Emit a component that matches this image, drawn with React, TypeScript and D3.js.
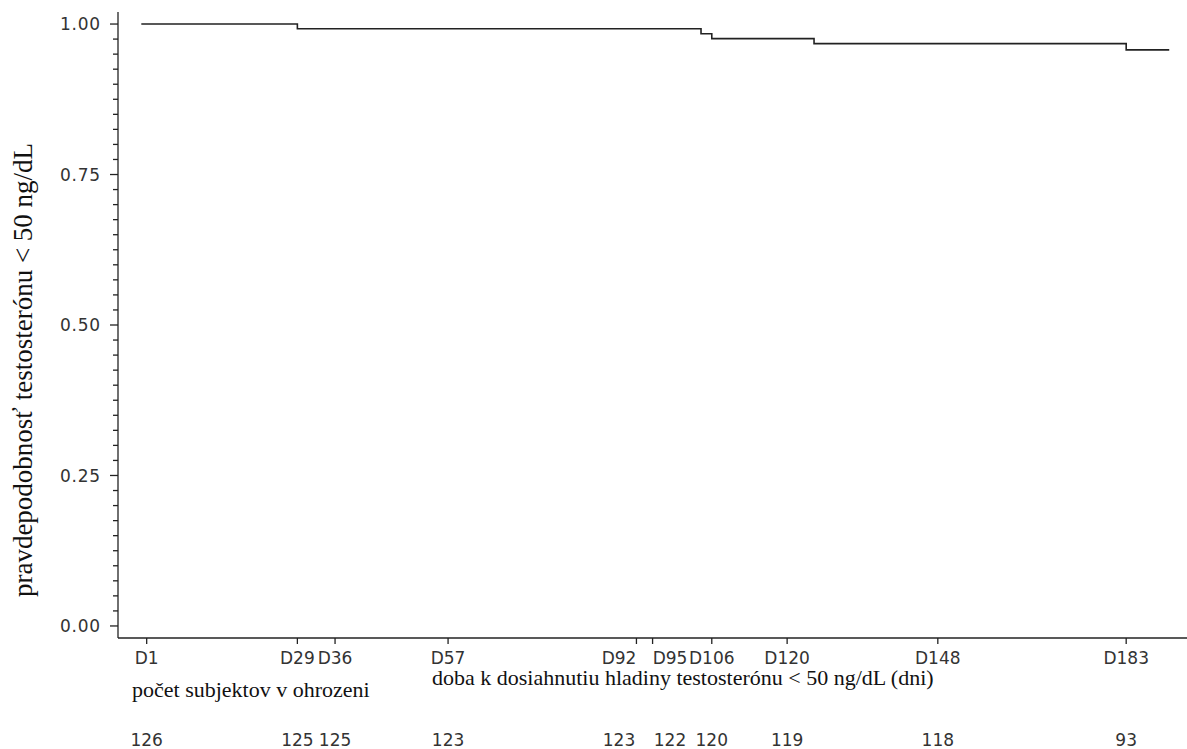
import React from 'react';
import * as d3 from 'd3';

// visit days shown on the x axis and the number at risk under each
const tickDays = [1, 29, 36, 57, 92, 95, 106, 120, 148, 183];
const tickLabels = ['D1', 'D29', 'D36', 'D57', 'D92', 'D95', 'D106', 'D120', 'D148', 'D183'];
const atRisk = [126, 125, 125, 123, 123, 122, 120, 119, 118, 93];

// Kaplan-Meier steps (day of event, survival after it)
const stepDays = [0, 29, 104, 106, 125, 183];
const stepSurv = [1.0, 0.9921, 0.9838, 0.9757, 0.9675, 0.9571];
const lastDay = 191;

const yTicks = [0, 0.25, 0.5, 0.75, 1.0];

const W = 1187;
const H = 749;

// spread labels whose ticks sit too close together
function layoutLabels(xs: number[]): number[] {
  const out = xs.slice();
  for (let i = 0; i < xs.length - 1; i++) {
    const gap = xs[i + 1] - xs[i];
    if (gap < 20) {
      const mid = (xs[i] + xs[i + 1]) / 2;
      out[i] = mid - 25.5;
      out[i + 1] = mid + 25.5;
    }
  }
  return out;
}

const App = () => {
  const x = d3.scaleLinear().domain([-4.33, 194.3]).range([118, 1187]);
  const y = d3.scaleLinear().domain([-0.02, 1.02]).range([638, 12]);

  const pts: [number, number][] = stepDays.map((d, i) => [d, stepSurv[i]]);
  pts.push([lastDay, stepSurv[stepSurv.length - 1]]);
  const line = d3.line<[number, number]>()
    .x(d => x(d[0]))
    .y(d => y(d[1]))
    .curve(d3.curveStepAfter);

  const minor = d3.range(0, 41).map(i => i * 0.025).filter((v, i) => i % 10 !== 0);
  const labelX = layoutLabels(tickDays.map(d => x(d)));

  const sans = '"DejaVu Sans", Verdana, sans-serif';
  const serif = '"Liberation Serif", "Times New Roman", serif';

  return (
    <svg width={W} height={H} style={{ position: 'absolute', left: 0, top: 0, background: '#fff' }}>
      {/* axes */}
      <line x1={118} x2={118} y1={12} y2={638} stroke="#222" strokeWidth={1.3} />
      <line x1={118} x2={1187} y1={638} y2={638} stroke="#222" strokeWidth={1.3} />

      {yTicks.map(t => (
        <g key={t}>
          <line x1={110} x2={118} y1={y(t)} y2={y(t)} stroke="#222" strokeWidth={1.3} />
          <text x={101} y={y(t)} dy="0.36em" textAnchor="end" fontFamily={sans} fontSize={17} letterSpacing={0.8} fill="#333">
            {t.toFixed(2)}
          </text>
        </g>
      ))}
      {minor.map(t => (
        <line key={t} x1={113} x2={118} y1={y(t)} y2={y(t)} stroke="#222" strokeWidth={1.3} />
      ))}

      {tickDays.map((d, i) => (
        <g key={d}>
          <line x1={x(d)} x2={x(d)} y1={638} y2={644} stroke="#222" strokeWidth={1.3} />
          <text x={labelX[i]} y={663.5} textAnchor="middle" fontFamily={sans} fontSize={17} fill="#333">
            {tickLabels[i]}
          </text>
          <text x={labelX[i]} y={746} textAnchor="middle" fontFamily={sans} fontSize={17} fill="#333">
            {atRisk[i]}
          </text>
        </g>
      ))}

      {/* survival curve */}
      <path d={line(pts) || ''} fill="none" stroke="#222" strokeWidth={1.6} />

      {/* titles */}
      <text x={432} y={685} fontFamily={serif} fontSize={22} fill="#111">
        doba k dosiahnutiu hladiny testosterónu &lt; 50 ng/dL (dni)
      </text>
      <text x={132} y={697} fontFamily={serif} fontSize={22} fill="#111">
        počet subjektov v ohrozeni
      </text>
      <text
        transform="translate(32,370) rotate(-90)"
        textAnchor="middle"
        fontFamily={serif}
        fontSize={27}
        fill="#111"
      >
        pravdepodobnosť testosterónu &lt; 50 ng/dL
      </text>
    </svg>
  );
};

export default App;
